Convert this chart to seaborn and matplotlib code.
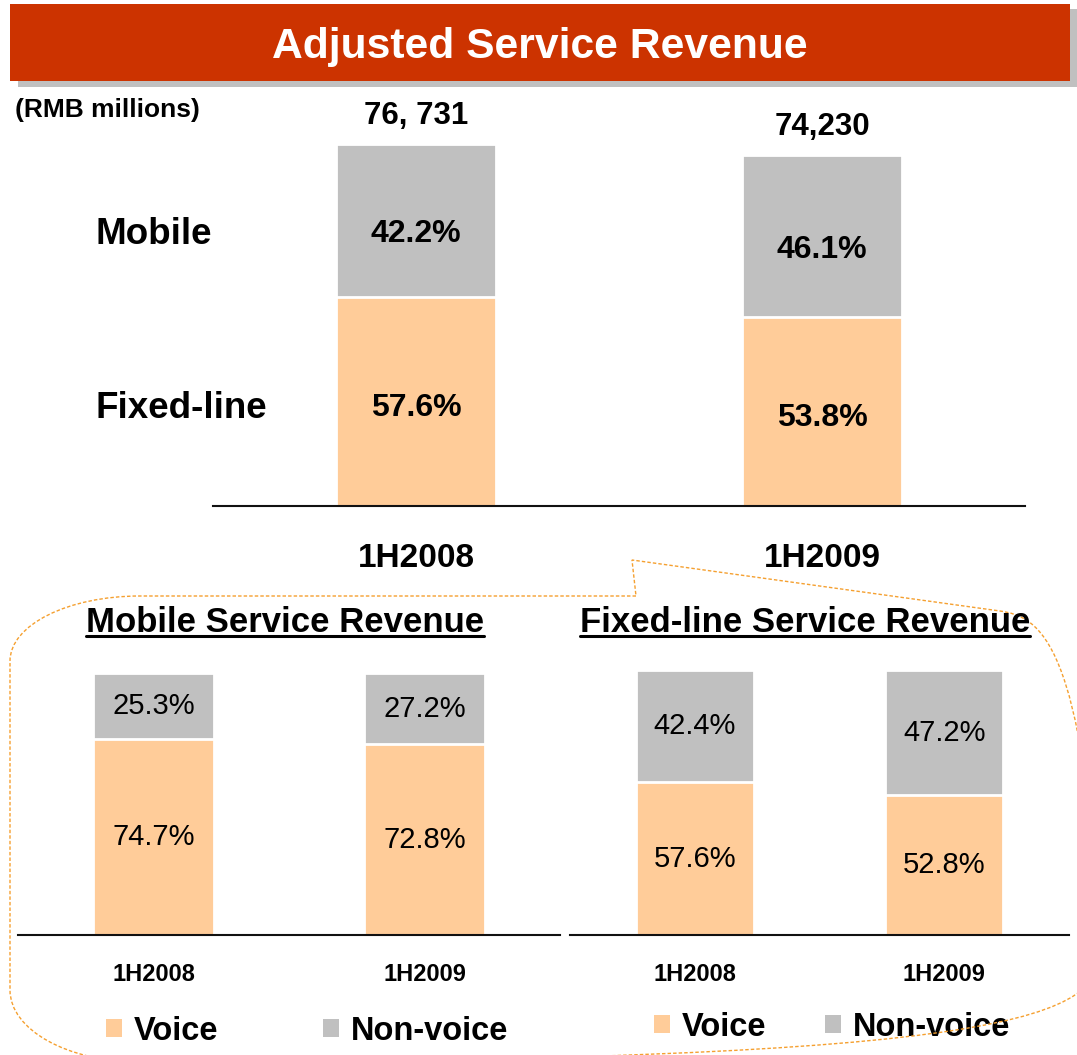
import numpy as np
import pandas as pd
import matplotlib
matplotlib.use("Agg")
import matplotlib.pyplot as plt
import seaborn as sns
from matplotlib.patches import Rectangle, Patch, PathPatch
from matplotlib.path import Path
from matplotlib.lines import Line2D
from matplotlib.transforms import blended_transform_factory

# ---------------- data ----------------
periods = ["1H2008", "1H2009"]
adjusted_total = [76731, 74230]
total_labels = ["76, 731", "74,230"]
fixed_share = [57.6, 53.8]
mobile_share = [42.2, 46.1]
mobile_voice = [74.7, 72.8]
mobile_nonvoice = [25.3, 27.2]
fixed_voice = [57.6, 52.8]
fixed_nonvoice = [42.4, 47.2]
legend_labels = ["Voice", "Non-voice"]

VOICE = "#FFCC99"
NONVOICE = "#C0C0C0"
BANNER = "#CC3300"
SHADOW = "#C0C0C0"
CALLOUT = "#F5A030"

sns.set_theme(style="white")
plt.rcParams["font.family"] = ["Liberation Sans", "DejaVu Sans"]
plt.rcParams["text.color"] = "black"

W, H = 1077, 1055
fig = plt.figure(figsize=(W / 100, H / 100), dpi=100)
fig.patch.set_facecolor("white")


def fx(x):
    return x / W


def fy(y):
    return 1 - y / H


# ---------------- banner ----------------
fig.add_artist(Rectangle((fx(18), fy(87)), fx(1077 - 18), (87 - 9) / H,
                         transform=fig.transFigure, facecolor=SHADOW, edgecolor="none"))
fig.add_artist(Rectangle((fx(10), fy(81)), fx(1070 - 10), (81 - 4) / H,
                         transform=fig.transFigure, facecolor=BANNER, edgecolor="none"))
fig.text(fx(540), fy(58), "Adjusted Service Revenue", color="white", fontsize=30.7,
         fontweight="bold", ha="center", va="baseline")
fig.text(fx(15), fy(117), "(RMB millions)", fontsize=19, fontweight="bold",
         ha="left", va="baseline")

# ---------------- callout outline ----------------
pts = [(636, 596), (140, 596),
       (68, 596), (10, 625), (10, 661),
       (10, 990),
       (10, 1030), (68, 1062), (140, 1062),
       (950, 1062),
       (1030, 1062), (1100, 1015), (1100, 950),
       (1100, 700),
       (1085, 640), (1040, 617), (1000, 611),
       (632, 560),
       (636, 596)]
codes = [Path.MOVETO, Path.LINETO,
         Path.CURVE4, Path.CURVE4, Path.CURVE4,
         Path.LINETO,
         Path.CURVE4, Path.CURVE4, Path.CURVE4,
         Path.LINETO,
         Path.CURVE4, Path.CURVE4, Path.CURVE4,
         Path.LINETO,
         Path.CURVE4, Path.CURVE4, Path.CURVE4,
         Path.LINETO,
         Path.CLOSEPOLY]
path = Path([(fx(x), fy(y)) for x, y in pts], codes)
fig.add_artist(PathPatch(path, transform=fig.transFigure, facecolor="none",
                         edgecolor=CALLOUT, linewidth=1.0, linestyle=(0, (2.5, 1.5))))

# ---------------- top chart ----------------
df_top = pd.DataFrame({"period": periods, "total": adjusted_total,
                       "fixed": fixed_share, "mobile": mobile_share})
df_top["fixed_amt"] = df_top["total"] * df_top["fixed"] / 100
df_top["stack_amt"] = df_top["total"] * (df_top["fixed"] + df_top["mobile"]) / 100

ax = fig.add_axes([fx(213), fy(506), fx(812), 386 / H])
sns.barplot(data=df_top, x="period", y="stack_amt", color=NONVOICE, width=0.394,
            edgecolor="white", linewidth=2, saturation=1, errorbar=None, ax=ax)
sns.barplot(data=df_top, x="period", y="fixed_amt", color=VOICE, width=0.394,
            edgecolor="white", linewidth=2, saturation=1, errorbar=None, ax=ax)
ax.set_xlim(-0.5, 1.5)
ax.set_ylim(0, 81600)
ax.set_xticks([])
ax.set_yticks([])
ax.set_xlabel("")
ax.set_ylabel("")
ax.set_facecolor("none")
sns.despine(ax=ax, left=True)
ax.spines["bottom"].set_color("#111111")
ax.spines["bottom"].set_linewidth(1.5)

tr = blended_transform_factory(ax.transData, fig.transFigure)
for i, row in df_top.iterrows():
    ax.annotate(f"{row['fixed']:.1f}%", (i, row["fixed_amt"] / 2), xytext=(0, -5),
                textcoords="offset points", ha="center", va="center",
                fontsize=23, fontweight="bold")
    ax.annotate(f"{row['mobile']:.1f}%", (i, (row["fixed_amt"] + row["stack_amt"]) / 2),
                xytext=(0, -10), textcoords="offset points", ha="center", va="center",
                fontsize=23, fontweight="bold")
    ax.annotate(total_labels[i], (i, row["total"]), xytext=(0, 14),
                textcoords="offset points", ha="center", va="baseline",
                fontsize=22.5, fontweight="bold")
    ax.text(i, fy(567), row["period"], transform=tr, ha="center", va="baseline",
            fontsize=24, fontweight="bold")

fig.text(fx(95), fy(244), "Mobile", fontsize=26.5, fontweight="bold", ha="left", va="baseline")
fig.text(fx(95), fy(418), "Fixed-line", fontsize=26.5, fontweight="bold", ha="left", va="baseline")


# ---------------- bottom charts ----------------
def panel(left, width, ylim_top, bar_w, voice, nonvoice, title, title_x,
          leg_x, leg_y, colspace):
    df = pd.DataFrame({"period": periods, "voice": voice, "nonvoice": nonvoice})
    df["stack"] = df["voice"] + df["nonvoice"]
    a = fig.add_axes([fx(left), fy(935), fx(width), 275 / H])
    sns.barplot(data=df, x="period", y="stack", color=NONVOICE, width=bar_w,
                edgecolor="white", linewidth=2, saturation=1, errorbar=None, ax=a)
    sns.barplot(data=df, x="period", y="voice", color=VOICE, width=bar_w,
                edgecolor="white", linewidth=2, saturation=1, errorbar=None, ax=a)
    a.set_xlim(-0.5, 1.5)
    a.set_ylim(0, ylim_top)
    a.set_xticks([])
    a.set_yticks([])
    a.set_xlabel("")
    a.set_ylabel("")
    a.set_facecolor("none")
    sns.despine(ax=a, left=True)
    a.spines["bottom"].set_color("#111111")
    a.spines["bottom"].set_linewidth(1.5)
    t = blended_transform_factory(a.transData, fig.transFigure)
    for i, r in df.iterrows():
        a.text(i, r["voice"] / 2, f"{r['voice']:.1f}%", ha="center", va="center",
               fontsize=21)
        a.text(i, r["voice"] + r["nonvoice"] / 2, f"{r['nonvoice']:.1f}%",
               ha="center", va="center", fontsize=21)
        a.text(i, fy(981), r["period"], transform=t, ha="center", va="baseline",
               fontsize=17, fontweight="bold")
    handles = [Patch(facecolor=VOICE, edgecolor="none"),
               Patch(facecolor=NONVOICE, edgecolor="none")]
    a.legend(handles, legend_labels, loc="center left",
             bbox_to_anchor=(fx(leg_x), fy(leg_y)), bbox_transform=fig.transFigure,
             ncol=2, frameon=False, prop={"size": 23.5, "weight": "bold"},
             handlelength=0.5, handleheight=0.5, handletextpad=0.35,
             columnspacing=colspace, borderpad=0, borderaxespad=0)
    txt = fig.text(fx(title_x), fy(632), title, fontsize=25, fontweight="bold",
                   ha="center", va="baseline")
    return txt


t1 = panel(18, 542, 105.0, 0.45, mobile_voice, mobile_nonvoice,
           "Mobile Service Revenue", 285, 106, 1031, 3.2)
t2 = panel(570, 499, 103.8, 0.474, fixed_voice, fixed_nonvoice,
           "Fixed-line Service Revenue", 805, 654, 1027, 1.8)

renderer = fig.canvas.get_renderer()
for t in (t1, t2):
    bb = t.get_window_extent(renderer)
    fig.add_artist(Line2D([bb.x0 / W, bb.x1 / W], [fy(636), fy(636)],
                          transform=fig.transFigure, color="black", linewidth=2.2))

fig.savefig("out.png", dpi=100, facecolor="white")
